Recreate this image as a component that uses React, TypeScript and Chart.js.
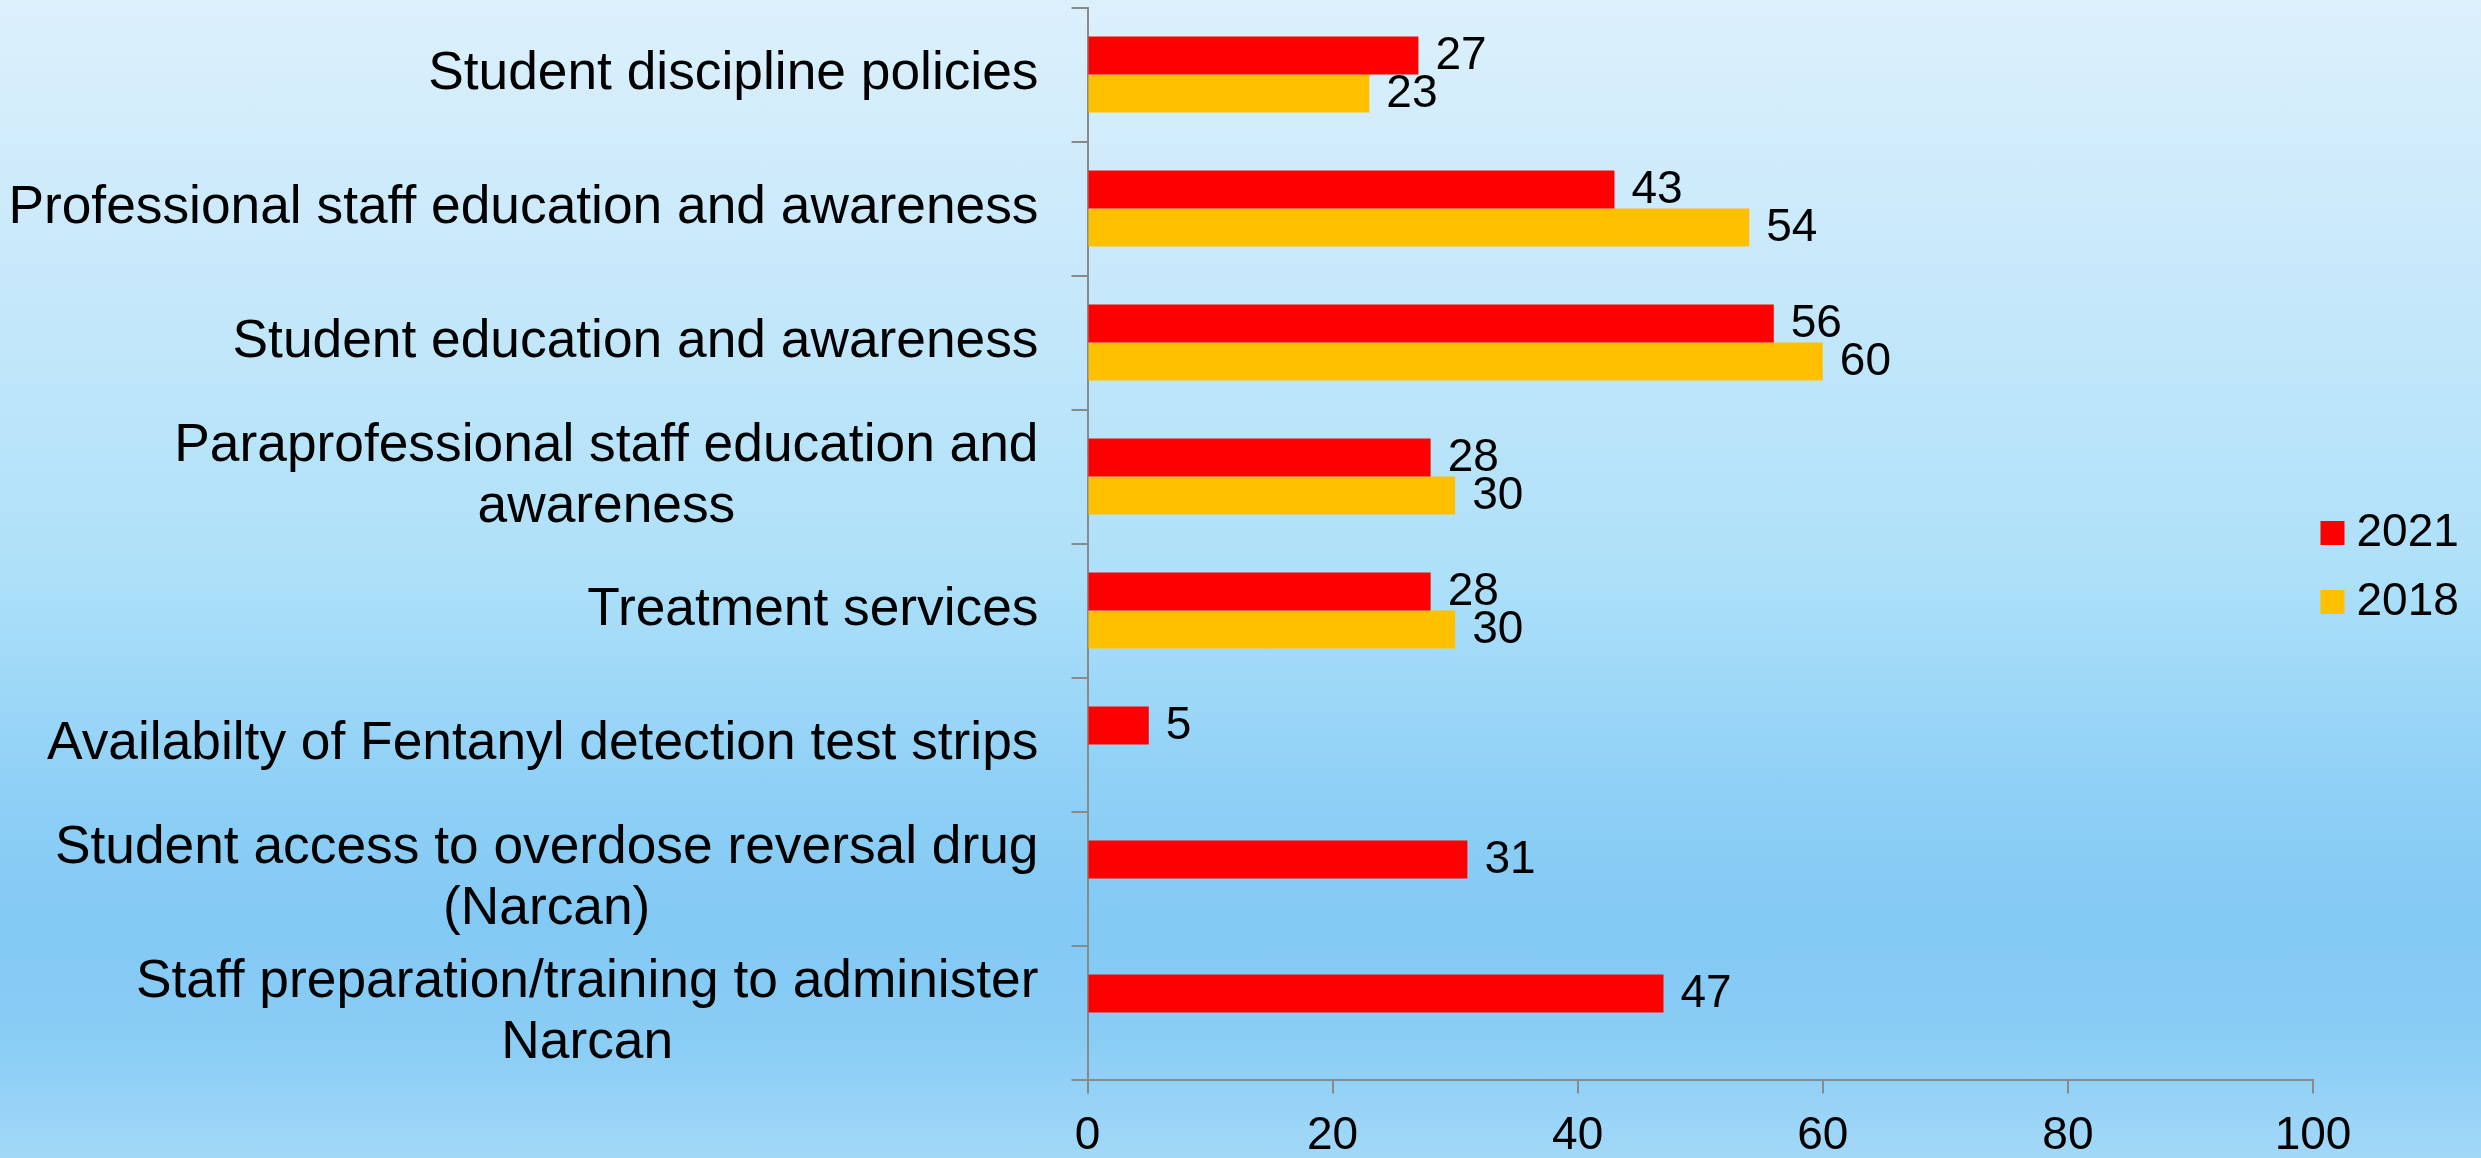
import React, { useEffect, useRef } from 'react';
import { Chart, registerables } from 'chart.js';

Chart.register(...registerables);

const categories: (string | string[])[] = [
  'Student discipline policies',
  'Professional staff education and awareness',
  'Student education and awareness',
  ['Paraprofessional staff education and', 'awareness'],
  'Treatment services',
  'Availabilty of Fentanyl detection test strips',
  ['Student access to overdose reversal drug', '(Narcan)'],
  ['Staff preparation/training to administer', 'Narcan'],
];
const values2021: (number | null)[] = [27, 43, 56, 28, 28, 5, 31, 47];
const values2018: (number | null)[] = [23, 54, 60, 30, 30, null, null, null];
const seriesLabels = ['2021', '2018'];
const seriesColors = ['#FF0000', '#FFC000'];
const xTicks = [0, 20, 40, 60, 80, 100];

const FONT = '"Liberation Sans", Arial, Helvetica, sans-serif';
const AXIS_COLOR = '#8a8a8a';
const W = 2481;
const H = 1158;
const Y_TICK_LEN = 16;
const Y_TICK_PAD = 33;
const CAT_FONT = 53.3;
const CAT_LINE = 61;

// Category labels: each block right-aligned to the axis, lines centred within the block
const categoryLabels = {
  id: 'categoryLabels',
  afterDraw(chart: any) {
    const ctx = chart.ctx;
    const scale = chart.scales.y;
    const labels = chart.data.labels as (string | string[])[];
    const right = chart.chartArea.left - Y_TICK_LEN - Y_TICK_PAD;
    ctx.save();
    ctx.font = `${CAT_FONT}px ${FONT}`;
    ctx.fillStyle = '#000000';
    ctx.textAlign = 'center';
    ctx.textBaseline = 'middle';
    labels.forEach((lab, i) => {
      const lines = Array.isArray(lab) ? lab : [lab];
      const blockW = Math.max(...lines.map((l) => ctx.measureText(l).width));
      const cx = right - blockW / 2;
      const cy = scale.getPixelForTick(i);
      lines.forEach((l, j) => {
        const ly = cy + (j - (lines.length - 1) / 2) * CAT_LINE;
        ctx.fillText(l, cx, ly);
      });
    });
    ctx.restore();
  },
};

const valueLabels = {
  id: 'valueLabels',
  afterDatasetsDraw(chart: any) {
    const ctx = chart.ctx;
    ctx.save();
    ctx.font = `46px ${FONT}`;
    ctx.fillStyle = '#000000';
    ctx.textAlign = 'left';
    ctx.textBaseline = 'middle';
    chart.data.datasets.forEach((ds: any, di: number) => {
      const meta = chart.getDatasetMeta(di);
      meta.data.forEach((el: any, i: number) => {
        const v = ds.data[i];
        if (v === null || v === undefined) return;
        ctx.fillText(String(v), el.x + 17, el.y + 1);
      });
    });
    ctx.restore();
  },
};

const sideLegend = {
  id: 'sideLegend',
  afterDraw(chart: any) {
    const ctx = chart.ctx;
    ctx.save();
    ctx.font = `46px ${FONT}`;
    ctx.textAlign = 'left';
    ctx.textBaseline = 'middle';
    const boxX = chart.chartArea.right + 7.5;
    const startY = 533;
    const rowGap = 69;
    const box = 24;
    chart.data.datasets.forEach((ds: any, i: number) => {
      const cy = startY + i * rowGap;
      ctx.fillStyle = ds.backgroundColor;
      ctx.fillRect(boxX, cy - box / 2, box, box);
      ctx.fillStyle = '#000000';
      ctx.fillText(ds.label, boxX + box + 12, cy);
    });
    ctx.restore();
  },
};

export default function App() {
  const canvasRef = useRef<HTMLCanvasElement | null>(null);

  useEffect(() => {
    const canvas = canvasRef.current;
    if (!canvas) return;
    const chart = new Chart(canvas, {
      type: 'bar',
      data: {
        labels: categories as any,
        datasets: [
          {
            label: seriesLabels[0],
            data: values2021,
            backgroundColor: seriesColors[0],
            borderWidth: 0,
            categoryPercentage: 0.567,
            barPercentage: 1,
          },
          {
            label: seriesLabels[1],
            data: values2018,
            backgroundColor: seriesColors[1],
            borderWidth: 0,
            categoryPercentage: 0.567,
            barPercentage: 1,
          },
        ],
      },
      options: {
        indexAxis: 'y',
        responsive: false,
        maintainAspectRatio: false,
        animation: false,
        devicePixelRatio: 1,
        layout: { padding: { top: 7.5, right: 168, left: 0, bottom: 0 } },
        plugins: {
          legend: { display: false },
          tooltip: { enabled: false },
          title: { display: false },
        },
        scales: {
          x: {
            type: 'linear',
            min: 0,
            max: 100,
            afterBuildTicks: (s: any) => {
              s.ticks = xTicks.map((v) => ({ value: v }));
            },
            afterFit: (s: any) => {
              s.height = 78.5;
              s.paddingLeft = 0;
              s.paddingRight = 0;
            },
            grid: {
              display: true,
              drawOnChartArea: false,
              drawTicks: true,
              tickLength: 14,
              color: AXIS_COLOR,
              lineWidth: 2,
            },
            border: { display: true, color: AXIS_COLOR, width: 2 },
            ticks: {
              color: '#000000',
              padding: 15.5,
              maxRotation: 0,
              autoSkip: false,
              font: { family: FONT, size: 46, lineHeight: 1.2 },
            },
          },
          y: {
            type: 'category',
            offset: true,
            afterFit: (s: any) => {
              s.width = 1087.5;
              s.paddingTop = 0;
              s.paddingBottom = 0;
            },
            grid: {
              display: true,
              offset: true,
              drawOnChartArea: false,
              drawTicks: true,
              tickLength: Y_TICK_LEN,
              color: AXIS_COLOR,
              lineWidth: 2,
            },
            border: { display: true, color: AXIS_COLOR, width: 2 },
            ticks: {
              display: false,
              autoSkip: false,
              padding: Y_TICK_PAD,
            },
          },
        },
      },
      plugins: [categoryLabels, valueLabels, sideLegend],
    } as any);
    return () => chart.destroy();
  }, []);

  return (
    <div
      style={{
        position: 'fixed',
        left: 0,
        top: 0,
        width: W,
        height: H,
        background:
          'linear-gradient(to bottom, #dcf0fc 0%, #c6e8fa 25%, #ade0f9 50%, #8fd0f6 68%, #82c9f4 80%, #8acdf5 90%, #a2d8f8 100%)',
      }}
    >
      <canvas
        ref={canvasRef}
        width={W}
        height={H}
        style={{ display: 'block', width: W, height: H }}
      />
    </div>
  );
}
